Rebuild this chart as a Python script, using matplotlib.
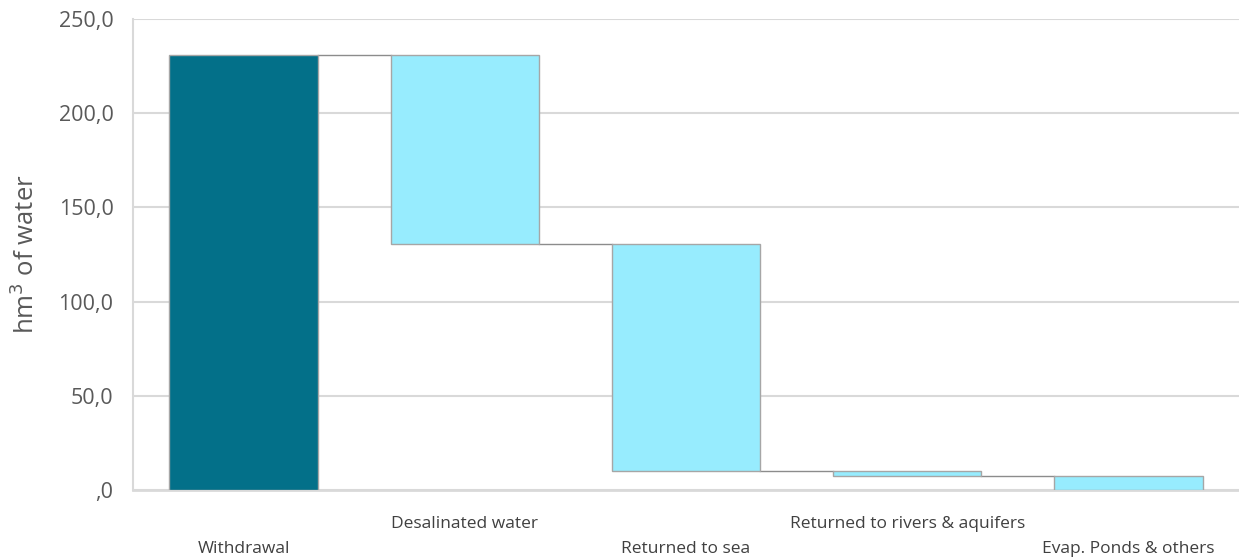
import numpy as np
import matplotlib.pyplot as plt
from matplotlib.ticker import FuncFormatter

# Data (hm3 of water)
categories = ['Withdrawal', 'Desalinated water', 'Returned to sea',
              'Returned to rivers & aquifers', 'Evap. Ponds & others']
values = [230.8, 100.2, 120.4, 2.8, 7.4]
is_total = [True, False, False, False, False]

plt.rcParams['font.family'] = ['Open Sans', 'DejaVu Sans']

fig = plt.figure(figsize=(12.39, 5.58), dpi=100)
ax = fig.add_axes([0.1073, 0.1219, 0.8927, 0.8441])

x = np.arange(len(categories))
width = 0.67

# waterfall bottoms
bottoms = []
levels = []
level = 0.0
for v, tot in zip(values, is_total):
    if tot:
        bottoms.append(0.0)
        level = v
    else:
        level = level - v
        bottoms.append(level)
    levels.append(level)

colors = ['#037089' if t else '#97ECFE' for t in is_total]
ax.bar(x, values, width, bottom=bottoms, color=colors,
       edgecolor='#a6a6a6', linewidth=1, zorder=3)

# connector lines
for i in range(len(categories) - 1):
    ax.plot([x[i] + width / 2, x[i + 1] - width / 2], [levels[i], levels[i]],
            color='#8c8c8c', linewidth=1, zorder=2)

ax.set_xlim(-0.5, len(categories) - 0.5)
ax.set_ylim(0, 250)
ax.set_yticks(np.arange(0, 251, 50))
ax.yaxis.set_major_formatter(FuncFormatter(
    lambda v, p: ',0' if v == 0 else f'{v:.1f}'.replace('.', ',')))
ax.grid(axis='y', color='#d9d9d9', linewidth=1.5, zorder=0)
ax.set_axisbelow(True)

for s in ['top', 'right']:
    ax.spines[s].set_visible(False)
ax.spines['left'].set_color('#d9d9d9')
ax.spines['left'].set_linewidth(1.5)
ax.spines['bottom'].set_color('#d9d9d9')
ax.spines['bottom'].set_linewidth(2)

ax.tick_params(axis='y', length=0, labelsize=15.5, labelcolor='#595959', pad=14)
ax.set_xticks(x)
ax.set_xticklabels(categories)
ax.tick_params(axis='x', length=0, labelsize=12.5, labelcolor='#404040')
for i, t in enumerate(ax.xaxis.get_major_ticks()):
    t.set_pad(37 if i % 2 == 0 else 19)

ax.set_ylabel('hm$^3$ of water', fontsize=18.5, color='#595959', labelpad=13)

fig.savefig('out.png', dpi=100)
